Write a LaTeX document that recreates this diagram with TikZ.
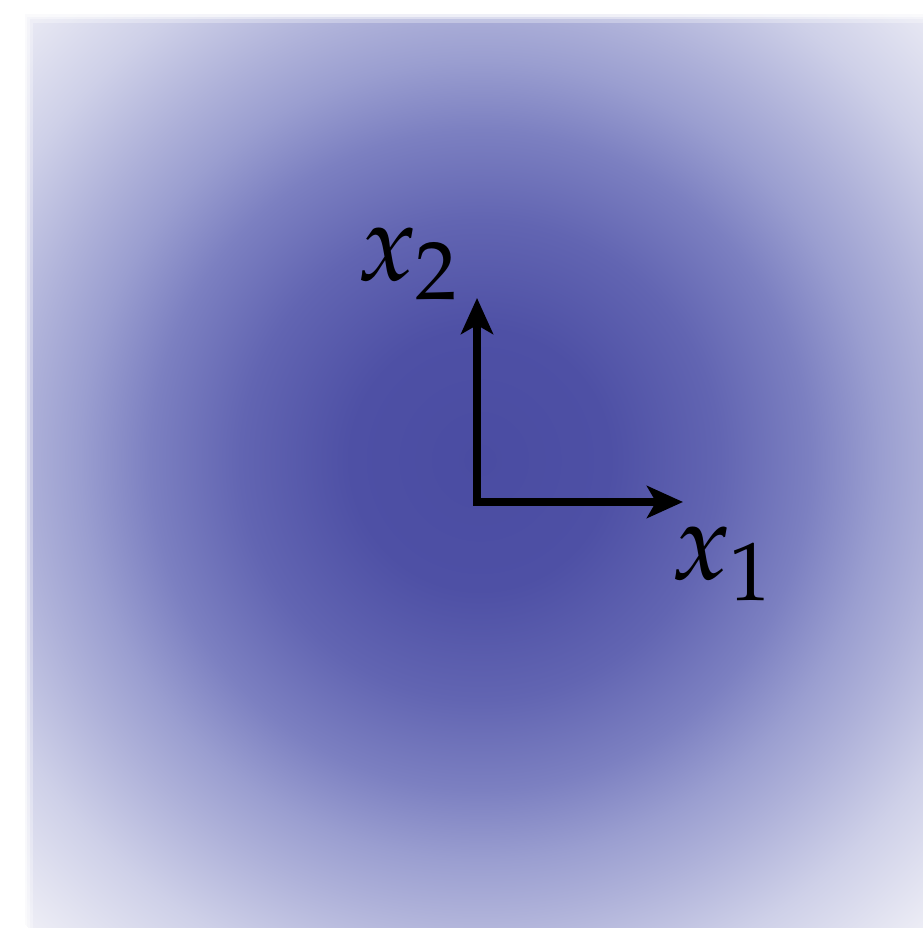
\documentclass[tikz,border=0pt]{standalone}
\usepackage{mathpazo}
\usetikzlibrary{arrows.meta}
\definecolor{glow0}{RGB}{74,76,162}
\definecolor{glow1}{RGB}{78,80,165}
\definecolor{glow2}{RGB}{98,101,178}
\definecolor{glow3}{RGB}{124,128,193}
\definecolor{glow4}{RGB}{154,158,208}
\definecolor{glow5}{RGB}{174,177,217}
\definecolor{glow6}{RGB}{206,208,232}
\definecolor{glow7}{RGB}{238,238,246}
\pgfdeclareradialshading{fieldglow}{\pgfpoint{0cm}{0cm}}{%
  color(0cm)=(glow0); color(1.3cm)=(glow1); color(2.4cm)=(glow2);
  color(3.3cm)=(glow3); color(4.0cm)=(glow4); color(4.55cm)=(glow5);
  color(5.4cm)=(glow6); color(6.5cm)=(glow7)}
\tikzset{
  axis/.style={line width=2.4pt, miter limit=10,
    {Stealth[length=0.36cm,width=0.32cm,inset=0.09cm]}-{Stealth[length=0.36cm,width=0.32cm,inset=0.09cm]}},
  lbl/.style={font=\fontsize{31}{36}\selectfont, inner sep=0pt}
}
\begin{document}
\begin{tikzpicture}
\useasboundingbox (0,0) rectangle (9.22,9.28);
\fill[white] (0,0) rectangle (9.22,9.28);
% shaded field
\begin{scope}
  \clip (0.25,-0.3) rectangle (9.4,9.13);
  \node[inner sep=0pt] (glow) at (4.8,4.68) {\pgfuseshading{fieldglow}};
\end{scope}
% soft rim
\foreach \w/\o in {0.16/0.3,0.09/0.4,0.04/0.55} {
  \draw[white, opacity=\o, line width=\w cm] (0.25,-0.4) -- (0.25,9.13) -- (9.5,9.13);
}
% axes
\coordinate (o) at (4.77,4.26);
\coordinate (e1) at (6.83,4.26);
\coordinate (e2) at (4.77,6.30);
\draw[axis] (e2) -- (o) -- (e1);
\node[lbl] (lx1) at (7.22,3.64) {$x_1$};
\node[lbl] (lx2) at (4.08,6.64) {$x_2$};
\end{tikzpicture}
\end{document}
